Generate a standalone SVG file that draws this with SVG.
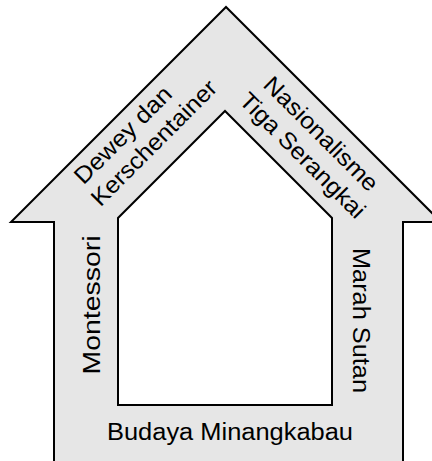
<svg xmlns="http://www.w3.org/2000/svg" width="432" height="461" viewBox="0 0 432 461">
<style>
.band{fill:#e6e6e6;stroke:#000;stroke-width:2;stroke-linejoin:miter}
.hole{fill:#fff;stroke:#000;stroke-width:2}
.lbl{font-family:"Liberation Sans",Arial,sans-serif;font-size:23.5px;fill:#000;text-anchor:middle}
</style>
<rect width="432" height="461" fill="#fff"/>
<g id="house">
<polygon class="band" points="54,470 54,222 11,222 226,7 441,222 403,222 403,470"/>
<polygon class="hole" points="118,405 118,218 225,111 332,218 332,405"/>
</g>
<g id="connectors"/>
<g id="label-dewey">
<text class="lbl" transform="translate(128.5,140.5) rotate(-45)" textLength="127" lengthAdjust="spacingAndGlyphs">Dewey dan</text>
<text class="lbl" transform="translate(159.5,148.5) rotate(-45)" textLength="167" lengthAdjust="spacingAndGlyphs">Kerschentainer</text>
</g>
<g id="label-nasionalisme">
<text class="lbl" transform="translate(315.5,139.5) rotate(45)" textLength="151" lengthAdjust="spacingAndGlyphs">Nasionalisme</text>
<text class="lbl" transform="translate(297,161) rotate(45)" textLength="167" lengthAdjust="spacingAndGlyphs">Tiga Serangkai</text>
</g>
<g id="label-montessori">
<text class="lbl" transform="translate(99.5,305) rotate(-90)" textLength="139" lengthAdjust="spacingAndGlyphs">Montessori</text>
</g>
<g id="label-marah">
<text class="lbl" transform="translate(352.5,320.5) rotate(90)" textLength="145" lengthAdjust="spacingAndGlyphs">Marah Sutan</text>
</g>
<g id="label-budaya">
<text class="lbl" x="230" y="440" textLength="246" lengthAdjust="spacingAndGlyphs">Budaya Minangkabau</text>
</g>
</svg>
